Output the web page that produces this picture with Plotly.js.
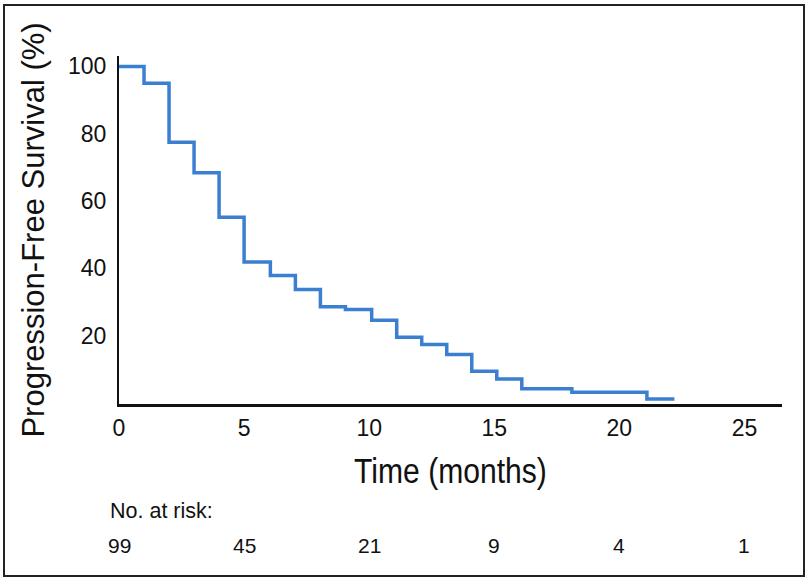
<!DOCTYPE html>
<html>
<head>
<meta charset="utf-8">
<script src="https://cdn.plot.ly/plotly-3.0.1.min.js"></script>
<style>
  html, body { margin: 0; padding: 0; background: #fff; }
  #wrap { position: relative; width: 808px; height: 577px; }
  #chart { position: absolute; left: 0; top: 0; width: 808px; height: 577px; }
  #frame { position: absolute; left: 3px; top: 4px; width: 798px; height: 569px;
           border: 2px solid #222; pointer-events: none; }
</style>
</head>
<body>
<div id="wrap">
  <div id="chart"></div>
  <div id="frame"></div>
</div>
<script>
// Kaplan-Meier step curve (months, % progression-free)
var timeMonths = [0, 1, 2, 3, 4, 5, 6.05, 7.05, 8.05, 9.05, 10.1, 11.1, 12.1, 13.1, 14.1, 15.1, 16.1, 18.1, 21.1, 22.2];
var pfsPercent = [100, 95, 77.5, 68.4, 55.2, 41.9, 37.9, 33.7, 28.6, 27.8, 24.6, 19.5, 17.4, 14.4, 9.4, 7.1, 4.2, 3.2, 1.2, 1.2];

// Axis ticks
var xTickVals = [0, 5, 10, 15, 20, 25];
var yTickVals = [20, 40, 60, 80, 100];

// Number at risk table
var riskTimes = [0, 5, 10, 15, 20, 25];
var riskCounts = [99, 45, 21, 9, 4, 1];

var tickFont = {family: 'Liberation Sans, Arial, sans-serif', size: 23, color: '#111'};

var trace = {
  x: timeMonths,
  y: pfsPercent,
  type: 'scatter',
  mode: 'lines',
  line: {shape: 'hv', color: '#3b7fd0', width: 3.5},
  hoverinfo: 'x+y'
};

var annotations = [{
  xref: 'paper', yref: 'paper',
  x: -0.0166, y: -0.3075,
  xanchor: 'left', yanchor: 'middle',
  text: 'No. at risk:',
  showarrow: false,
  font: {family: 'Liberation Sans, Arial, sans-serif', size: 21.5, color: '#111'}
}];
for (var i = 0; i < riskTimes.length; i++) {
  annotations.push({
    xref: 'x', yref: 'paper',
    x: riskTimes[i], y: -0.407,
    xanchor: 'center', yanchor: 'middle',
    text: String(riskCounts[i]),
    showarrow: false,
    font: {family: 'Liberation Sans, Arial, sans-serif', size: 21, color: '#111'}
  });
}

var layout = {
  width: 808,
  height: 577,
  margin: {l: 119, r: 26, t: 56, b: 173, pad: 0},
  paper_bgcolor: '#fff',
  plot_bgcolor: '#fff',
  showlegend: false,
  xaxis: {
    range: [0, 26.5],
    tickvals: xTickVals,
    ticktext: xTickVals.map(String),
    ticks: '',
    showgrid: false,
    zeroline: false,
    showline: true,
    linecolor: '#111',
    linewidth: 3,
    tickfont: tickFont,
    ticklabelstandoff: 1,
    title: {
      text: 'Time (months)',
      standoff: 19,
      font: {family: 'Liberation Sans, Arial, sans-serif', size: 35, color: '#111'}
    }
  },
  yaxis: {
    range: [-0.3, 103.1],
    tickvals: yTickVals,
    ticktext: yTickVals.map(String),
    ticks: '',
    showgrid: false,
    zeroline: false,
    showline: true,
    linecolor: '#111',
    linewidth: 2,
    tickfont: tickFont,
    ticklabelstandoff: 6,
    title: {
      text: 'Progression-Free Survival (%)',
      standoff: 14,
      font: {family: 'Liberation Sans, Arial, sans-serif', size: 31, color: '#111'}
    }
  },
  annotations: annotations
};

Plotly.newPlot('chart', [trace], layout, {displayModeBar: false, staticPlot: true}).then(function () {
  // condensed look for the x-axis title, as in the reference
  var t = document.querySelector('.g-xtitle text');
  if (t) {
    var cx = parseFloat(t.getAttribute('x')) || 0;
    var prev = t.getAttribute('transform') || '';
    t.setAttribute('transform', prev + ' translate(' + cx + ',0) scale(0.86,1) translate(' + (-cx) + ',0)');
  }
});
</script>
</body>
</html>
